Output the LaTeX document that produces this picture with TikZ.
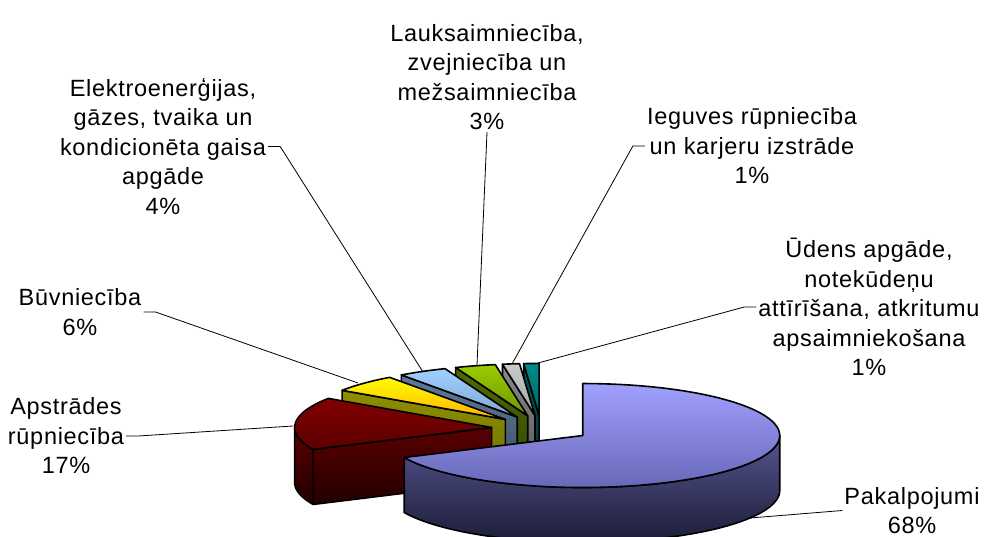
\documentclass[tikz,border=0pt]{standalone}
\usepackage{fontspec}
\usepackage{tikz}
\usepackage{xcolor}
\newfontfamily\lblfont[LetterSpace=3]{Liberation Sans}
\usetikzlibrary{calc}

\definecolor{pakTop}{HTML}{A0A0FF}
\definecolor{pakTopB}{HTML}{6868B8}
\definecolor{pakSide}{HTML}{55558F}
\definecolor{pakSideB}{HTML}{1C1C38}
\definecolor{redTop}{HTML}{820000}
\definecolor{redTopB}{HTML}{5C0000}
\definecolor{redSide}{HTML}{5A0000}
\definecolor{redSideB}{HTML}{220000}
\definecolor{yelTop}{HTML}{FFFF00}
\definecolor{yelTopB}{HTML}{FFB000}
\definecolor{yelSide}{HTML}{8F8F00}
\definecolor{yelSideB}{HTML}{707000}
\definecolor{bluTop}{HTML}{A0D0FF}
\definecolor{bluTopB}{HTML}{7FA6D6}
\definecolor{bluSide}{HTML}{5F7A99}
\definecolor{bluSideB}{HTML}{3E5166}
\definecolor{grnTop}{HTML}{9ACD00}
\definecolor{grnTopB}{HTML}{6F9400}
\definecolor{grnSide}{HTML}{4F6B00}
\definecolor{grnSideB}{HTML}{344700}
\definecolor{silTop}{HTML}{CACACA}
\definecolor{silTopB}{HTML}{A6A6A6}
\definecolor{silSide}{HTML}{8A8A8A}
\definecolor{silSideB}{HTML}{5A5A5A}
\definecolor{tealTop}{HTML}{008A8A}
\definecolor{tealTopB}{HTML}{006666}
\definecolor{tealSide}{HTML}{005454}
\definecolor{tealSideB}{HTML}{003636}

% centre of a slice pulled out along its middle angle
\newcommand{\slicecentre}[2]{%
  \pgfmathsetmacro{\slmid}{(#1+#2)/2}%
  \pgfmathsetmacro{\slcx}{541+49.5*sin(\slmid)}%
  \pgfmathsetmacro{\slcy}{428.5-13.07*cos(\slmid)}%
}

\tikzset{
  slice/.style={draw=black, line width=1.6pt, line join=round},
  leader/.style={draw=black, line width=0.8pt},
  lbl/.style={font=\lblfont\fontsize{23.5}{29.5}\selectfont, align=center, inner sep=2pt},
}

\begin{document}
\begin{tikzpicture}[x=1pt, y=-1pt]
\useasboundingbox (0,0) rectangle (984,537);
\clip (0,0) rectangle (984,537);

% small slices, back to front: cut face then top
\foreach \a/\b/\tA/\tB/\sA/\sB in {355.5/360/tealTop/tealTopB/tealSide/tealSideB,
    350.5/355.5/silTop/silTopB/silSide/silSideB,
    338.5/350.5/grnTop/grnTopB/grnSide/grnSideB,
    324/338.5/bluTop/bluTopB/bluSide/bluSideB,
    304/324/yelTop/yelTopB/yelSide/yelSideB} {
  \slicecentre{\a}{\b}
  \draw[slice, top color=\sA, bottom color=\sB] (\slcx,\slcy) -- ({\slcx+197*sin(\a)},{\slcy-52*cos(\a)})
    -- ++(0,55) -- ({\slcx},{\slcy+55}) -- cycle;
  \draw[slice, top color=\tA, bottom color=\tB] (\slcx,\slcy)
    -- plot[domain=\a:\b, samples=30] ({\slcx+197*sin(\x)},{\slcy-52*cos(\x)}) -- cycle;
}

% Apstrades slice
\slicecentre{245}{304}
\draw[slice, top color=redSide, bottom color=redSideB] (\slcx,\slcy) -- ({\slcx+197*sin(245)},{\slcy-52*cos(245)})
  -- ++(0,55) -- ({\slcx},{\slcy+55}) -- cycle;
\draw[slice, top color=redSide, bottom color=redSideB]
  plot[domain=245:270, samples=20] ({\slcx+197*sin(\x)},{\slcy-52*cos(\x)})
  -- plot[domain=270:245, samples=20] ({\slcx+197*sin(\x)},{\slcy+55-52*cos(\x)}) -- cycle;
\draw[slice, top color=redTop, bottom color=redTopB] (\slcx,\slcy)
  -- plot[domain=245:304, samples=40] ({\slcx+197*sin(\x)},{\slcy-52*cos(\x)}) -- cycle;

% Pakalpojumi slice
\slicecentre{0}{245}
\draw[slice, top color=pakSide, bottom color=pakSideB]
  plot[domain=90:245, samples=60] ({\slcx+197*sin(\x)},{\slcy-52*cos(\x)})
  -- plot[domain=245:90, samples=60] ({\slcx+197*sin(\x)},{\slcy+55-52*cos(\x)}) -- cycle;
\draw[slice, top color=pakTop, bottom color=pakTopB] (\slcx,\slcy)
  -- plot[domain=0:245, samples=90] ({\slcx+197*sin(\x)},{\slcy-52*cos(\x)}) -- cycle;

% labels
\node[lbl] (lauks) at (487,77) {Lauksaimniecība,\\zvejniecība un\\mežsaimniecība\\3\%};
\node[lbl] (elektro) at (163,146.5) {Elektroenerģijas,\\gāzes, tvaika un\\kondicionēta gaisa\\apgāde\\4\%};
\node[lbl] (ieguves) at (752,146) {Ieguves rūpniecība\\un karjeru izstrāde\\1\%};
\node[lbl] (udens) at (869,307) {Ūdens apgāde,\\notekūdeņu\\attīrīšana, atkritumu\\apsaimniekošana\\1\%};
\node[lbl] (buvn) at (80,312) {Būvniecība\\6\%};
\node[lbl] (apstr) at (66,436) {Apstrādes\\rūpniecība\\17\%};
\node[lbl] (pak) at (912,510.5) {Pakalpojumi\\68\%};

% leader ends on the slices
\coordinate (lauksend) at (477,365);
\coordinate (elektroend) at (423,372);
\coordinate (ieguvesend) at (512,364);
\coordinate (udensend) at (538,363);
\coordinate (buvnend) at (358,383);
\coordinate (apstrend) at (293,426);
\coordinate (pakend) at (750,518);

\draw[leader] (lauks.south) -- (lauksend);
\draw[leader] (elektro.east) -- ++(12,0) -- (elektroend);
\draw[leader] (ieguves.west) -- ++(-12,0) -- (ieguvesend);
\draw[leader] (udens.west) -- ++(-12,0) -- (udensend);
\draw[leader] (buvn.east) -- ++(12,0) -- (buvnend);
\draw[leader] (apstr.east) -- ++(12,0) -- (apstrend);
\draw[leader] (pak.west) -- (pakend);
\end{tikzpicture}
\end{document}
